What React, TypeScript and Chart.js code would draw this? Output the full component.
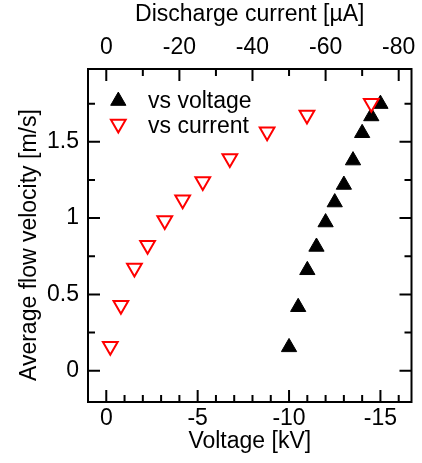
import React, { useEffect, useRef } from 'react';
import { Chart, registerables } from 'chart.js';

Chart.register(...registerables);

// ---- data ----
const voltageKV = [-10, -10.5, -11, -11.5, -12, -12.5, -13, -13.5, -14, -14.5, -15];
const velocityVsVoltage = [0.154, 0.417, 0.659, 0.812, 0.972, 1.103, 1.218, 1.378, 1.557, 1.667, 1.748];

const currentUA = [-1.1, -4.0, -7.7, -11.3, -16.0, -20.9, -26.4, -33.8, -44.0, -54.9, -72.5];
const velocityVsCurrent = [0.161, 0.429, 0.673, 0.822, 0.985, 1.12, 1.24, 1.39, 1.566, 1.676, 1.752];

const voltageMajorTicks = [0, -5, -10, -15];
const currentMajorTicks = [0, -20, -40, -60, -80];
const velocityMajorTicks = [0, 0.5, 1, 1.5];
const voltageMinorStep = 1;
const currentMinorStep = 10;
const velocityMinorStep = 0.25;

const seriesLabels = ['vs voltage', 'vs current'];

const FONT = 'Arial, "Liberation Sans", sans-serif';
const FS = 23;

function isMajor(v: number, majors: number[]) {
  return majors.some((m) => Math.abs(m - v) < 1e-9);
}

function buildTicks(step: number) {
  return (scale: any) => {
    const { min, max } = scale;
    const out: { value: number }[] = [];
    const start = Math.ceil(min / step - 1e-9);
    const end = Math.floor(max / step + 1e-9);
    const span = max - min;
    for (let k = start; k <= end; k++) {
      const v = +(k * step).toFixed(6);
      if (Math.abs(v - min) < span * 0.004 || Math.abs(v - max) < span * 0.004) continue;
      out.push({ value: v });
    }
    scale.ticks = out;
  };
}

function fmt(v: number) {
  return String(+v.toFixed(3));
}

function triangle(ctx: CanvasRenderingContext2D, x: number, y: number, r: number, rotDeg: number) {
  let rad = (rotDeg * Math.PI) / 180;
  ctx.beginPath();
  for (let k = 0; k < 3; k++) {
    const px = x + Math.sin(rad) * r;
    const py = y - Math.cos(rad) * r;
    if (k === 0) ctx.moveTo(px, py);
    else ctx.lineTo(px, py);
    rad += (2 * Math.PI) / 3;
  }
  ctx.closePath();
}

const framePlugin = {
  id: 'frame',
  beforeDatasetsDraw(chart: any) {
    const { ctx, chartArea } = chart;
    const { left, right, top, bottom } = chartArea;
    ctx.save();
    ctx.strokeStyle = '#000';
    ctx.lineWidth = 2;
    ctx.strokeRect(left, top, right - left, bottom - top);
    const MAJ = 12;
    const MIN = 7;
    ctx.beginPath();
    for (const t of chart.scales.x.ticks) {
      const px = chart.scales.x.getPixelForValue(t.value);
      const len = isMajor(t.value, voltageMajorTicks) ? MAJ : MIN;
      ctx.moveTo(px, bottom);
      ctx.lineTo(px, bottom - len);
    }
    for (const t of chart.scales.x2.ticks) {
      const px = chart.scales.x2.getPixelForValue(t.value);
      const len = isMajor(t.value, currentMajorTicks) ? MAJ : MIN;
      ctx.moveTo(px, top);
      ctx.lineTo(px, top + len);
    }
    for (const t of chart.scales.y.ticks) {
      const py = chart.scales.y.getPixelForValue(t.value);
      const len = isMajor(t.value, velocityMajorTicks) ? MAJ : MIN;
      ctx.moveTo(left, py);
      ctx.lineTo(left + len, py);
      ctx.moveTo(right, py);
      ctx.lineTo(right - len, py);
    }
    ctx.stroke();

    // legend
    const lx = 118.3;
    const tx = 148;
    ctx.fillStyle = '#000';
    triangle(ctx, lx, 100.9, 8.8, 0);
    ctx.fill();
    ctx.lineWidth = 1;
    ctx.stroke();
    triangle(ctx, lx, 123.9, 8.5, 180);
    ctx.fillStyle = '#fff';
    ctx.fill();
    ctx.strokeStyle = '#ff0000';
    ctx.lineWidth = 2;
    ctx.stroke();
    ctx.fillStyle = '#000';
    ctx.font = `${FS}px ${FONT}`;
    ctx.textAlign = 'left';
    ctx.textBaseline = 'alphabetic';
    ctx.fillText(seriesLabels[0], tx, 107.5);
    ctx.fillText(seriesLabels[1], tx, 133);
    ctx.restore();
  },
};

export default function App() {
  const ref = useRef<HTMLCanvasElement>(null);
  useEffect(() => {
    const canvas = ref.current;
    if (!canvas) return;
    const chart = new Chart(canvas, {
      type: 'scatter',
      data: {
        datasets: [
          {
            label: seriesLabels[0],
            data: voltageKV.map((v, i) => ({ x: v, y: velocityVsVoltage[i] })),
            xAxisID: 'x',
            yAxisID: 'y',
            pointStyle: 'triangle',
            pointRadius: 8.8,
            backgroundColor: '#000',
            borderColor: '#000',
            borderWidth: 1,
            order: 1,
          },
          {
            label: seriesLabels[1],
            data: currentUA.map((v, i) => ({ x: v, y: velocityVsCurrent[i] })),
            xAxisID: 'x2',
            yAxisID: 'y',
            pointStyle: 'triangle',
            rotation: 180,
            pointRadius: 8.5,
            backgroundColor: '#fff',
            borderColor: '#ff0000',
            borderWidth: 2,
            order: 0,
          },
        ],
      },
      options: {
        responsive: false,
        animation: false,
        devicePixelRatio: 1,
        events: [],
        layout: { padding: { left: 0, top: 0, bottom: 0, right: 7 } },
        plugins: { legend: { display: false }, tooltip: { enabled: false } },
        scales: {
          x: {
            type: 'linear',
            position: 'bottom',
            reverse: true,
            min: -16.7,
            max: 1,
            grid: { display: false, drawTicks: false },
            border: { display: false },
            afterBuildTicks: buildTicks(voltageMinorStep),
            afterFit: (s: any) => { s.height = 61; },
            ticks: {
              autoSkip: false,
              maxRotation: 0,
              padding: 2.4,
              color: '#000',
              font: { family: FONT, size: FS },
              callback: (v: any) => (isMajor(Number(v), voltageMajorTicks) ? fmt(Number(v)) : ''),
            },
            title: {
              display: true,
              text: 'Voltage [kV]',
              color: '#000',
              font: { family: FONT, size: FS },
              padding: { top: 0, bottom: 8 },
            },
          },
          x2: {
            type: 'linear',
            position: 'top',
            reverse: true,
            min: -83.5,
            max: 5,
            grid: { display: false, drawTicks: false },
            border: { display: false },
            afterBuildTicks: buildTicks(currentMinorStep),
            afterFit: (s: any) => { s.height = 69; },
            ticks: {
              autoSkip: false,
              maxRotation: 0,
              padding: 7.2,
              color: '#000',
              font: { family: FONT, size: FS },
              callback: (v: any) => (isMajor(Number(v), currentMajorTicks) ? fmt(Number(v)) : ''),
            },
            title: {
              display: true,
              text: 'Discharge current [µA]',
              color: '#000',
              font: { family: FONT, size: FS },
              padding: { top: 1.2, bottom: 0 },
            },
          },
          y: {
            type: 'linear',
            position: 'left',
            min: -0.205,
            max: 1.977,
            grid: { display: false, drawTicks: false },
            border: { display: false },
            afterBuildTicks: buildTicks(velocityMinorStep),
            afterFit: (s: any) => { s.width = 88; },
            ticks: {
              autoSkip: false,
              padding: 9,
              color: '#000',
              font: { family: FONT, size: FS },
              callback: (v: any) => (isMajor(Number(v), velocityMajorTicks) ? fmt(Number(v)) : ''),
            },
            title: {
              display: true,
              text: 'Average flow velocity [m/s]   ',
              color: '#000',
              font: { family: FONT, size: FS },
              padding: { top: 15.4, bottom: 0 },
            },
          },
        },
      },
      plugins: [framePlugin],
    } as any);
    return () => chart.destroy();
  }, []);
  return (
    <canvas
      ref={ref}
      width={422}
      height={463}
      style={{ position: 'fixed', left: 0, top: 0, width: 422, height: 463, display: 'block' }}
    />
  );
}
